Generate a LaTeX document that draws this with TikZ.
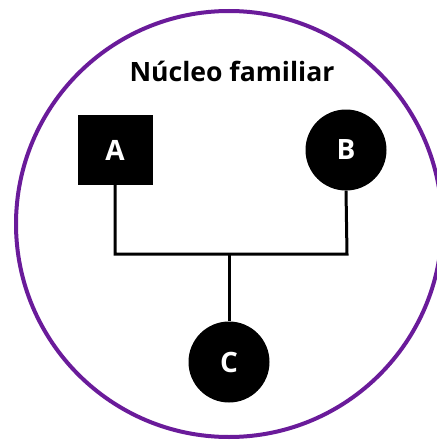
\documentclass[tikz,border=0pt]{standalone}
\usepackage{fontspec}
\setmainfont{Open Sans}
\definecolor{ringpurple}{RGB}{106,27,154}
\begin{document}
\begin{tikzpicture}[x=1pt,y=-1pt,
  person/.style={fill=black,text=white,font=\fontsize{28}{30}\selectfont\bfseries,inner sep=0pt},
  link/.style={line width=3pt}]
\useasboundingbox (0,0) rectangle (436,441);
% family boundary
\draw[ringpurple,line width=4pt] (229,224) circle (213);
\node[font=\fontsize{26.6}{30}\selectfont\bfseries,anchor=base] (title) at (232,82) {Núcleo familiar};
% parents and child
\node[person,rectangle,minimum width=75pt,minimum height=70pt] (A) at (115,150) {A};
\node[person,circle,minimum size=81pt] (B) at (346,150) {B};
\node[person,circle,minimum size=81pt] (C) at (229,362) {C};
% union line
\coordinate (jA) at (115,254);
\coordinate (jB) at (347,254);
\coordinate (jC) at (229,254);
\draw[link] (A.south) -- (jA) -- (jB) -- (B.south);
\draw[link] (jC) -- (C.north);
\end{tikzpicture}
\end{document}
